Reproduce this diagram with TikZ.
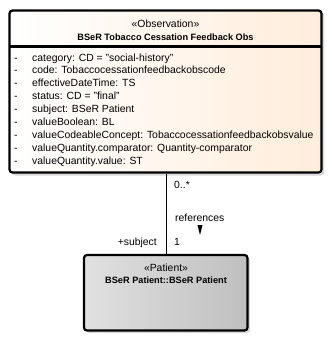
\documentclass[tikz,border=0pt]{standalone}
\usepackage{fontspec}
\setmainfont{Liberation Sans}
\begin{document}
\begin{tikzpicture}[x=1pt,y=-1pt,
  txt/.style={inner sep=0pt,font=\fontsize{10.4}{11}\selectfont},
  bold/.style={inner sep=0pt,font=\fontsize{9.2}{10}\selectfont\bfseries},
  attr/.style={txt,anchor=base west},
  cls/.style={draw=black,line width=2.2pt,rounded corners=3pt},
  shadow/.style={fill=black!15,rounded corners=3pt}]
\useasboundingbox (0,0) rectangle (332,360);
% shadows
\fill[shadow] (12,13) rectangle (324.5,175.5);
\fill[shadow] (86.5,257.5) rectangle (250,333);
% observation box
\shade[left color=white,right color=orange!14!white,rounded corners=3pt] (9.5,10.5) rectangle (321.5,172.5);
\draw[cls] (9.5,10.5) rectangle (321.5,172.5);
\draw[line width=2.2pt] (9.5,46.5) -- (321.5,46.5);
\node[txt,anchor=base] (st) at (165.5,27) {«Observation»};
\node[bold,anchor=base] (ti) at (165.5,40) {BSeR Tobacco Cessation Feedback Obs};
\foreach \i/\t in {0/{category: CD = "social-history"},1/{code: Tobaccocessationfeedbackobscode},2/{effectiveDateTime: TS},3/{status: CD = "final"},4/{subject: BSeR Patient},5/{valueBoolean: BL},6/{valueCodeableConcept: Tobaccocessationfeedbackobsvalue},7/{valueQuantity.comparator: Quantity-comparator},8/{valueQuantity.value: ST}}{
  \node[attr] at (14,61+12.9*\i) {-};
  \node[attr] at (32,61+12.9*\i) {\t};
}
% patient box
\shade[left color=black!12,right color=black!25,rounded corners=3pt] (84,255) rectangle (247.5,330.5);
\draw[cls] (84,255) rectangle (247.5,330.5);
\node[txt,anchor=base] (pst) at (166,271) {«Patient»};
\node[bold,anchor=base] (pti) at (166,283.5) {BSeR Patient::BSeR Patient};
% connector
\coordinate (a) at (166.5,173.5);
\coordinate (b) at (166.5,254);
\draw[line width=0.8pt] (a) -- (b);
\node[txt,anchor=base west] (m1) at (174,188) {0..*};
\node[txt,anchor=base west] (rl) at (175,221) {references};
\node[txt,anchor=base west] (m2) at (174,245) {1};
\node[txt,anchor=base east] (rs) at (157,245) {+subject};
\fill (197.5,225) -- (202.5,225) -- (200,235) -- cycle;
\end{tikzpicture}
\end{document}
